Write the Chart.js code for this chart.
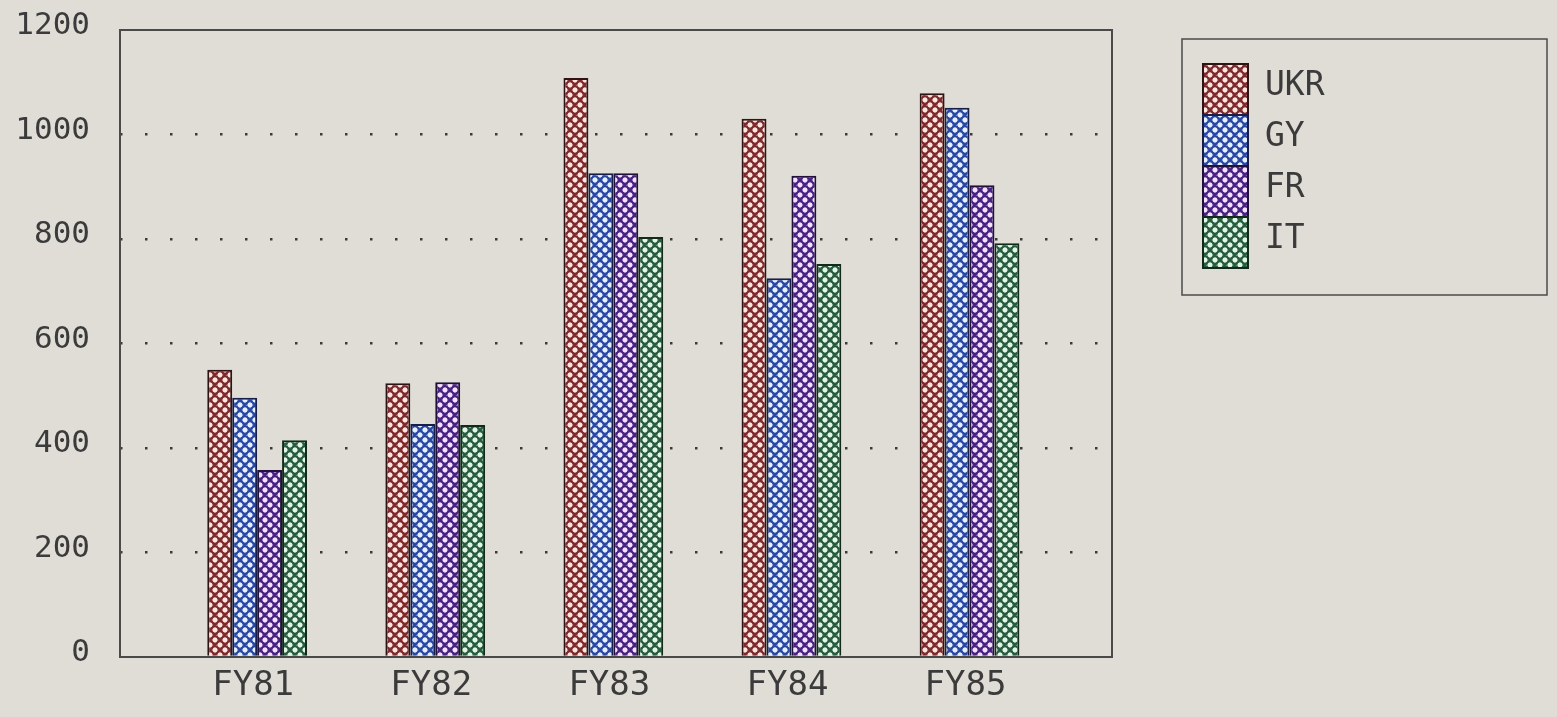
<!DOCTYPE html>
<html><head><meta charset="utf-8">
<script src="https://cdn.jsdelivr.net/npm/chart.js@4.4.1/dist/chart.umd.min.js"></script>
<style>
html,body{margin:0;padding:0;background:#dfddd6;overflow:hidden;}
canvas{display:block;}
</style></head><body>
<canvas id="c" width="1557" height="717"></canvas>
<script>
// ---- data ----
const categories = ['FY81', 'FY82', 'FY83', 'FY84', 'FY85'];
const seriesNames = ['UKR', 'GY', 'FR', 'IT'];
const UKR = [550, 524, 1108, 1030, 1079];
const GY  = [496, 446, 926, 725, 1051];
const FR  = [358, 526, 926, 921, 903];
const IT  = [415, 444, 804, 752, 792];
const yTicks = [0, 200, 400, 600, 800, 1000, 1200];

// ---- styles ----
const palette = [
  {line: '#7a2a2c', mid: '#b86a6a', dot: '#fde6e0', edge: '#2e1414'},
  {line: '#2a46a0', mid: '#7090d6', dot: '#e6f0ff', edge: '#171f48'},
  {line: '#48207e', mid: '#8462ba', dot: '#f2e2ff', edge: '#20103a'},
  {line: '#285a3e', mid: '#64987a', dot: '#e2f6e8', edge: '#122a1b'}
];
function makePattern(p) {
  const P = 10;
  const c = document.createElement('canvas');
  c.width = P; c.height = P;
  const g = c.getContext('2d');
  g.fillStyle = p.mid; g.fillRect(0, 0, P, P);
  g.strokeStyle = p.line; g.lineWidth = 2;
  g.beginPath();
  for (let k = -1; k <= 1; k++) {
    g.moveTo(k * P, 0); g.lineTo(k * P + P, P);
    g.moveTo(k * P + P, 0); g.lineTo(k * P, P);
  }
  g.stroke();
  g.fillStyle = p.dot;
  [[P / 2, 0], [0, P / 2], [P, P / 2], [P / 2, P]].forEach(([x, y]) => {
    g.beginPath(); g.arc(x, y, 2.4, 0, Math.PI * 2); g.fill();
  });
  return document.getElementById('c').getContext('2d').createPattern(c, 'repeat');
}

const seriesValues = [UKR, GY, FR, IT];
const datasets = seriesNames.map((name, s) => ({
  label: name,
  data: seriesValues[s].map((v, i) => ({x: i + 1, y: v})),
  backgroundColor: makePattern(palette[s]),
  borderColor: palette[s].edge,
  borderWidth: 2,
  categoryPercentage: 0.56,
  barPercentage: 1.0
}));

const TEXT = '#3b3b3b';
const FONT = '"DejaVu Sans Mono", monospace';

const paper = {
  id: 'paper',
  beforeDraw(chart) {
    const ctx = chart.ctx;
    ctx.save();
    ctx.fillStyle = '#dfddd6';
    ctx.fillRect(0, 0, chart.width, chart.height);
    ctx.restore();
  },
  afterDatasetsDraw(chart) {
    const {ctx, chartArea: a} = chart;
    ctx.save();
    ctx.strokeStyle = '#4a4a4a';
    ctx.lineWidth = 2;
    ctx.strokeRect(a.left, a.top, a.right - a.left, a.bottom - a.top);
    ctx.restore();
  }
};

const boxLegend = {
  id: 'boxLegend',
  afterDraw(chart) {
    const {ctx, chartArea: a} = chart;
    const left = a.right + 70, top = 39, w = 365, h = 256;
    ctx.save();
    ctx.strokeStyle = '#4a4a4a';
    ctx.lineWidth = 1.5;
    ctx.strokeRect(left, top, w, h);
    const sx = left + 21, sy = top + 25, sw = 45, sh = 51;
    chart.data.datasets.forEach((ds, i) => {
      const y = sy + i * sh;
      ctx.fillStyle = ds.backgroundColor;
      ctx.fillRect(sx, y, sw, sh);
      ctx.strokeStyle = ds.borderColor;
      ctx.lineWidth = 2;
      ctx.strokeRect(sx, y, sw, sh);
      ctx.fillStyle = TEXT;
      ctx.font = '33px ' + FONT;
      ctx.textBaseline = 'middle';
      ctx.textAlign = 'left';
      ctx.fillText(ds.label, sx + 62, y + sh / 2 - 3);
    });
    ctx.restore();
  }
};

new Chart(document.getElementById('c'), {
  type: 'bar',
  data: {datasets},
  options: {
    responsive: false,
    animation: false,
    devicePixelRatio: 1,
    layout: {padding: {top: 30, right: 445, bottom: 0, left: 0}},
    plugins: {legend: {display: false}, tooltip: {enabled: false}},
    scales: {
      x: {
        type: 'linear',
        offset: false,
        min: 0.23, max: 5.8,
        afterBuildTicks: (scale) => { scale.ticks = categories.map((_, i) => ({value: i + 1})); },
        afterFit: (scale) => { scale.height = 60; scale.paddingLeft = 0; scale.paddingRight = 0; },
        grid: {display: false, drawTicks: false, offset: false},
        border: {display: false},
        ticks: {
          callback: (v) => categories[v - 1] ?? '',
          autoSkip: false, maxRotation: 0,
          padding: 9, labelOffset: -4,
          color: TEXT, font: {family: FONT, size: 34}
        }
      },
      y: {
        min: 0, max: 1200,
        afterBuildTicks: (scale) => { scale.ticks = yTicks.map(v => ({value: v})); },
        afterFit: (scale) => { scale.width = 120; scale.paddingTop = 0; scale.paddingBottom = 0; },
        grid: {
          drawTicks: false,
          lineWidth: 2.5,
          color: (c) => (c.tick && (c.tick.value === 0 || c.tick.value === 1200)) ? 'rgba(0,0,0,0)' : '#3a3a3a'
        },
        border: {display: false, dash: [2.5, 22.5]},
        ticks: {
          callback: (v) => String(v),
          padding: 30, labelOffset: -4,
          color: TEXT, font: {family: FONT, size: 31}
        }
      }
    }
  },
  plugins: [paper, boxLegend]
});
</script>
</body></html>
